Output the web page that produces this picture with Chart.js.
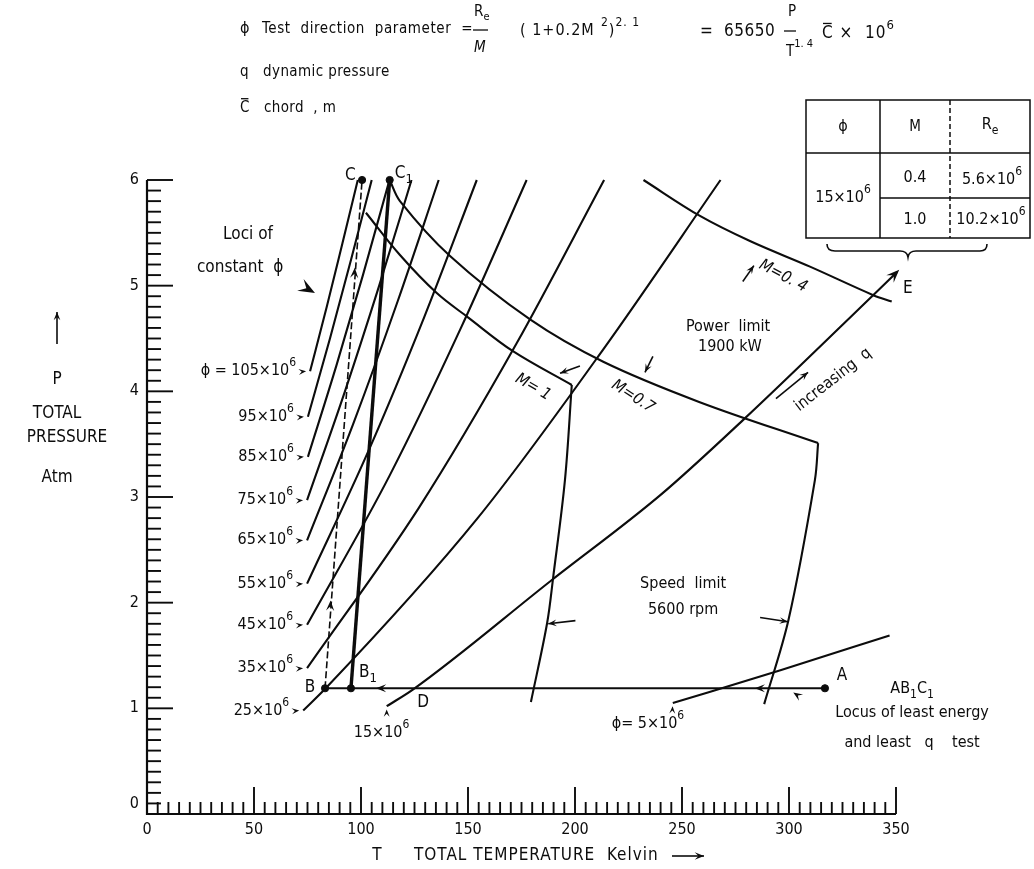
<!DOCTYPE html>
<html lang="en">
<head>
<meta charset="utf-8">
<title>Test direction parameter</title>
<script src="https://cdn.jsdelivr.net/npm/chart.js@4.4.1/dist/chart.umd.min.js"></script>
<style>
    html, body { margin: 0; padding: 0; background: #fff; }
    canvas { display: block; }
</style>
</head>
<body>
<canvas id="mapa" width="1034" height="869"></canvas>
<script>
// ____________________________________________________________________________
// Dados (T em Kelvin, P em atm)

const tempTicks = [0, 50, 100, 150, 200, 250, 300, 350];
const pressTicks = [0, 1, 2, 3, 4, 5, 6];

// linhas de phi constante (valores x10^6)
const phiValues = [105, 95, 85, 75, 65, 55, 45, 35, 25, 15, 5];
const phi105T = [76.2, 84.0, 91.3, 98.5];
const phi105P = [4.19, 4.80, 5.40, 6.00];
const phi95T = [75.2, 85.5, 95.4, 105.0];
const phi95P = [3.76, 4.50, 5.25, 6.00];
const phi85T = [75.2, 88.6, 100.9, 113.3];
const phi85P = [3.38, 4.25, 5.10, 6.00];
const phi75T = [74.8, 92.5, 108.5, 123.6];
const phi75P = [2.97, 4.00, 5.00, 6.00];
const phi65T = [74.8, 96.5, 117.1, 136.3];
const phi65P = [2.59, 3.70, 4.85, 6.00];
const phi55T = [74.8, 103.8, 129.5, 154.1];
const phi55P = [2.18, 3.45, 4.70, 6.00];
const phi45T = [74.8, 113.3, 146.7, 177.4];
const phi45P = [1.79, 3.20, 4.60, 6.00];
const phi35T = [74.8, 127.1, 172.6, 213.6];
const phi35P = [1.38, 2.90, 4.45, 6.00];
const phi25T = [73.0, 83.5, 154.5, 213.3, 268.0];
const phi25P = [0.98, 1.19, 2.80, 4.40, 6.00];
const phi15T = [112.0, 124.4, 188.9, 240.0, 278.6, 339.3, 350.5];
const phi15P = [1.02, 1.18, 2.21, 3.02, 3.73, 4.91, 5.13];
const phi5T = [245.7, 296.0, 347.0];
const phi5P = [1.05, 1.36, 1.69];

// limite de potencia (1900 kW) e limite de rotacao (5600 rpm)
const m1PowerT = [102.3, 118.2, 135.4, 150.0, 171.0, 198.5];
const m1PowerP = [5.69, 5.29, 4.93, 4.70, 4.38, 4.06];
const m1SpeedT = [179.4, 187.0, 189.8, 195.3, 198.5];
const m1SpeedP = [1.06, 1.81, 2.24, 3.16, 4.06];
const m07PowerT = [113.4, 118.2, 141.6, 179.0, 213.2, 258.0, 313.6];
const m07PowerP = [6.00, 5.80, 5.28, 4.68, 4.28, 3.90, 3.51];
const m07SpeedT = [288.4, 299.8, 312.1, 313.6];
const m07SpeedP = [1.04, 1.84, 3.16, 3.51];
const m04T = [232.0, 258.4, 282.0, 309.8, 339.4, 348.0];
const m04P = [6.00, 5.66, 5.42, 5.18, 4.91, 4.85];

// caminho de teste A -> B -> C e B1 -> C1
const pathNames = ['A', 'B', 'B1', 'C', 'C1'];
const pathT = [316.8, 83.2, 95.3, 100.5, 113.4];
const pathP = [1.19, 1.19, 1.19, 6.00, 6.00];

// tabela do ponto E
const tablePhi = '15';
const tableMach = ['0.4', '1.0'];
const tableRe = ['5.6', '10.2'];

// ____________________________________________________________________________

const FAMILY = '"DejaVu Sans Condensed", "Liberation Sans Narrow", "DejaVu Sans", sans-serif';
const INK = '#0c0c0c';

const pts = (T, P) => T.map((t, i) => ({ x: t, y: P[i] }));

function linha(T, P, extra) {
    return Object.assign({
        data: pts(T, P),
        showLine: true,
        borderColor: INK,
        borderWidth: 2.1,
        pointRadius: 0,
        tension: 0.35,
        fill: false,
        clip: false,
    }, extra || {});
}

const phiLines = [
    [phi105T, phi105P], [phi95T, phi95P], [phi85T, phi85P], [phi75T, phi75P],
    [phi65T, phi65P], [phi55T, phi55P], [phi45T, phi45P], [phi35T, phi35P],
    [phi25T, phi25P], [phi15T, phi15P], [phi5T, phi5P],
];

const datasets = phiLines.map(([T, P]) => linha(T, P, { cubicInterpolationMode: 'monotone' }));
datasets.push(linha(m1PowerT, m1PowerP));
datasets.push(linha(m1SpeedT, m1SpeedP));
datasets.push(linha(m07PowerT, m07PowerP));
datasets.push(linha(m07SpeedT, m07SpeedP));
datasets.push(linha(m04T, m04P));
// A -> B1 -> B (linha horizontal)
datasets.push(linha([pathT[1], pathT[0]], [pathP[1], pathP[0]], { tension: 0 }));
// B -> C (tracejada) e B1 -> C1 (grossa)
datasets.push(linha([pathT[1], pathT[3]], [pathP[1], pathP[3]], { tension: 0, borderWidth: 1.6, borderDash: [7, 3] }));
datasets.push(linha([pathT[2], pathT[4]], [pathP[2], pathP[4]], { tension: 0, borderWidth: 3.4 }));
// pontos
datasets.push({
    data: pts(pathT, pathP),
    showLine: false,
    pointRadius: 3.6,
    pointBackgroundColor: INK,
    pointBorderColor: INK,
    clip: false,
});

// ____________________________________________________________________________
// Funções de desenho

// texto com expoente (^), índice (_) ou barra (~)
function rich(ctx, parts, x, y, size, align, style, spacing) {
    const st = style ? style + ' ' : '';
    ctx.letterSpacing = (spacing || 0) + 'px';
    const fonts = parts.map(([t, k]) => st + ((k === '^' || k === '_') ? Math.round(size * 0.75) : size) + 'px ' + FAMILY);
    const ws = [];
    let w = 0;
    parts.forEach(([t], i) => {
        ctx.font = fonts[i];
        const m = ctx.measureText(t).width;
        ws.push(m);
        w += m;
    });
    let cx = align === 'center' ? x - w / 2 : align === 'right' ? x - w : x;
    ctx.textAlign = 'left';
    ctx.textBaseline = 'middle';
    parts.forEach(([t, k], i) => {
        ctx.font = fonts[i];
        const dy = k === '^' ? -size * 0.5 : k === '_' ? size * 0.35 : 0;
        ctx.fillText(t, cx, y + dy);
        if (k === '~') {
            ctx.beginPath();
            ctx.lineWidth = 1.3;
            ctx.moveTo(cx + 1, y - size * 0.62);
            ctx.lineTo(cx + ws[i] - 1 - (spacing || 0), y - size * 0.62);
            ctx.stroke();
        }
        cx += ws[i];
    });
    ctx.letterSpacing = '0px';
    return w;
}

// ponta de seta preenchida
function seta(ctx, x1, y1, x2, y2, size, shaft) {
    const a = Math.atan2(y2 - y1, x2 - x1);
    if (shaft) {
        ctx.beginPath();
        ctx.lineWidth = 1.6;
        ctx.moveTo(x1, y1);
        ctx.lineTo(x2, y2);
        ctx.stroke();
    }
    ctx.beginPath();
    ctx.moveTo(x2, y2);
    ctx.lineTo(x2 - size * Math.cos(a - 0.38), y2 - size * Math.sin(a - 0.38));
    ctx.lineTo(x2 - size * 0.55 * Math.cos(a), y2 - size * 0.55 * Math.sin(a));
    ctx.lineTo(x2 - size * Math.cos(a + 0.38), y2 - size * Math.sin(a + 0.38));
    ctx.closePath();
    ctx.fill();
}

const SUP6 = (s) => [[s + '×10', ''], ['6', '^']];

// setas de anotação: [T1, P1, T2, P2, tamanho, com haste]
const setas = [
    [115, 1.19, 107, 1.19, 11, false],
    [292, 1.19, 284, 1.19, 11, false],
    [308, 1.07, 302, 1.15, 10, false],
    [85.4, 1.85, 85.8, 2.02, 11, false],
    [96.6, 5.00, 97.1, 5.17, 11, false],
    [345.0, 5.02, 351.5, 5.15, 14, false],
    [200.2, 1.83, 187.5, 1.80, 9, true],
    [286.5, 1.86, 299.5, 1.82, 9, true],
    [202.3, 4.24, 193.0, 4.17, 9, true],
    [236.4, 4.33, 232.7, 4.18, 9, true],
    [278.4, 5.04, 283.6, 5.19, 9, true],
    [293.9, 3.93, 308.9, 4.18, 9, true],
    [112.0, 0.90, 112.0, 0.99, 8, false],
    [245.4, 0.93, 245.6, 1.02, 8, false],
    [69.6, 5.03, 78.5, 4.93, 18, false],
];

const desenho = {
    id: 'desenho',
    afterDraw(chart) {
        const ctx = chart.ctx;
        const sx = chart.scales.x, sy = chart.scales.y;
        const X = (v) => sx.getPixelForValue(v);
        const Y = (v) => sy.getPixelForValue(v);
        ctx.save();
        ctx.fillStyle = INK;
        ctx.strokeStyle = INK;

        // eixos
        ctx.lineWidth = 2.2;
        ctx.beginPath();
        ctx.moveTo(X(0), Y(6));
        ctx.lineTo(X(0), Y(0));
        ctx.lineTo(X(350), Y(0));
        ctx.stroke();
        ctx.lineWidth = 1.9;
        for (let i = 0; i <= 60; i++) {
            const len = i % 10 === 0 ? 26 : 14;
            ctx.beginPath();
            ctx.moveTo(X(0), Y(i / 10));
            ctx.lineTo(X(0) + len, Y(i / 10));
            ctx.stroke();
        }
        for (let i = 0; i <= 70; i++) {
            const len = i % 10 === 0 ? 27 : 12;
            ctx.beginPath();
            ctx.moveTo(X(i * 5), Y(0));
            ctx.lineTo(X(i * 5), Y(0) - len);
            ctx.stroke();
        }
        ctx.font = '16px ' + FAMILY;
        ctx.textBaseline = 'middle';
        ctx.textAlign = 'center';
        tempTicks.forEach((v) => ctx.fillText(String(v), X(v), Y(0) + 16));
        ctx.textAlign = 'right';
        pressTicks.forEach((v) => ctx.fillText(String(v), X(0) - 8, Y(v) - (v === 0 ? 10 : 0)));

        // títulos dos eixos
        rich(ctx, [['T', '']], 377, 856, 17, 'center');
        rich(ctx, [['TOTAL TEMPERATURE  Kelvin', '']], 414, 856, 17, 'left', null, 1);
        seta(ctx, 672, 856, 704, 856, 10, true);
        rich(ctx, [['P', '']], 57, 380, 17, 'center');
        rich(ctx, [['TOTAL', '']], 57, 414, 17, 'center');
        rich(ctx, [['PRESSURE', '']], 67, 438, 17, 'center');
        rich(ctx, [['Atm', '']], 57, 478, 17, 'center');
        seta(ctx, 57, 344, 57, 312, 9, true);

        // definições no topo
        rich(ctx, [['ϕ', '']], 240, 29, 16);
        rich(ctx, [['Test  direction  parameter  =', '']], 262, 29, 15, 'left', null, 0.6);
        rich(ctx, [['R', ''], ['e', '_']], 474, 12, 15);
        ctx.lineWidth = 1.3;
        ctx.beginPath(); ctx.moveTo(473, 30); ctx.lineTo(488, 30); ctx.stroke();
        rich(ctx, [['M', '']], 474, 48, 15, null, 'italic');
        rich(ctx, [['( 1+0.2', ''], ['M', '']], 520, 31, 16, 'left', null, 1);
        rich(ctx, [['2', '^'], [')', ''], ['2. 1', '^']], 601, 31, 16, 'left', null, 1);
        rich(ctx, [['=  65650', '']], 700, 32, 17, 'left', null, 0.5);
        rich(ctx, [['P', '']], 788, 12, 15);
        ctx.lineWidth = 1.3;
        ctx.beginPath(); ctx.moveTo(784, 31); ctx.lineTo(796, 31); ctx.stroke();
        rich(ctx, [['T', ''], ['1. 4', '^']], 786, 52, 15);
        rich(ctx, [['C', '~'], [' ×  10', ''], ['6', '^']], 822, 34, 17, 'left', null, 1);
        rich(ctx, [['q   dynamic pressure', '']], 240, 72, 15, 'left', null, 0.4);
        rich(ctx, [['C', '~'], ['   chord  , m', '']], 240, 108, 15, 'left', null, 0.4);

        // tabela
        ctx.lineWidth = 1.5;
        ctx.beginPath();
        ctx.rect(806, 100, 224, 138);
        ctx.moveTo(806, 153); ctx.lineTo(1030, 153);
        ctx.moveTo(880, 100); ctx.lineTo(880, 238);
        ctx.moveTo(880, 198); ctx.lineTo(1030, 198);
        ctx.stroke();
        ctx.setLineDash([5, 3]);
        ctx.beginPath(); ctx.moveTo(950, 100); ctx.lineTo(950, 238); ctx.stroke();
        ctx.setLineDash([]);
        rich(ctx, [['ϕ', '']], 843, 127, 16, 'center');
        rich(ctx, [['M', '']], 915, 127, 15, 'center');
        rich(ctx, [['R', ''], ['e', '_']], 990, 125, 16, 'center');
        rich(ctx, SUP6(tablePhi), 843, 198, 16, 'center');
        rich(ctx, [[tableMach[0], '']], 915, 178, 16, 'center');
        rich(ctx, [[tableMach[1], '']], 915, 220, 16, 'center');
        rich(ctx, SUP6(tableRe[0]), 992, 180, 16, 'center');
        rich(ctx, SUP6(tableRe[1]), 991, 220, 16, 'center');
        // chave sob a tabela
        ctx.lineWidth = 1.6;
        ctx.beginPath();
        ctx.moveTo(827, 244);
        ctx.quadraticCurveTo(827, 251, 835, 251);
        ctx.lineTo(900, 251);
        ctx.quadraticCurveTo(907, 251, 908, 257);
        ctx.quadraticCurveTo(909, 251, 916, 251);
        ctx.lineTo(980, 251);
        ctx.quadraticCurveTo(987, 251, 987, 244);
        ctx.stroke();

        // rótulos das linhas de phi
        phiLines.forEach(([T, P], i) => {
            const v = phiValues[i];
            if (v <= 15) return;
            const x0 = X(T[0]), y0 = Y(P[0]);
            const parts = v === 105 ? [['ϕ = ', '']].concat(SUP6(String(v))) : SUP6(String(v));
            rich(ctx, parts, x0 - 14, y0, 16, 'right');
            seta(ctx, x0 - 14, y0 + 1, x0 - 4, y0, 8, false);
        });
        rich(ctx, SUP6('15'), X(109.6), Y(0.77), 16, 'center');
        rich(ctx, [['ϕ= ', '']].concat(SUP6('5')), X(234.1), Y(0.85), 16, 'center');

        // letras dos pontos
        rich(ctx, [['B', '']], X(76.2), Y(1.20), 17, 'center');
        rich(ctx, [['B', ''], ['1', '_']], X(103.3), Y(1.34), 17, 'center');
        rich(ctx, [['D', '']], X(129.0), Y(1.05), 17, 'center');
        rich(ctx, [['A', '']], X(324.8), Y(1.31), 17, 'center');
        rich(ctx, [['C', '']], X(95.0), Y(6.0) - 4, 17, 'center');
        rich(ctx, [['C', ''], ['1', '_']], X(120.0), Y(6.0) - 6, 17, 'center');
        rich(ctx, [['E', '']], X(355.5), Y(4.97), 17, 'center');
        rich(ctx, [['AB', ''], ['1', '_'], ['C', ''], ['1', '_']], X(357.5), Y(1.18), 16, 'center');
        rich(ctx, [['Locus of least energy', '']], X(357.5), Y(0.96), 16, 'center');
        rich(ctx, [['and least   q    test', '']], X(357.5), Y(0.67), 16, 'center');
        rich(ctx, [['Speed  limit', '']], X(250.5), Y(2.18), 16, 'center');
        rich(ctx, [['5600 rpm', '']], X(250.5), Y(1.93), 16, 'center');
        rich(ctx, [['Power  limit', '']], X(271.5), Y(4.61), 16, 'center');
        rich(ctx, [['1900 kW', '']], X(272.4), Y(4.42), 16, 'center');
        rich(ctx, [['Loci of', '']], X(47.2), Y(5.48), 17, 'center');
        rich(ctx, [['constant  ϕ', '']], X(43.5), Y(5.17), 17, 'center');

        // rótulos inclinados
        const girado = (parts, T, P, ang, size, style) => {
            ctx.save();
            ctx.translate(X(T), Y(P));
            ctx.rotate(ang * Math.PI / 180);
            rich(ctx, parts, 0, 0, size, 'center', style);
            ctx.restore();
        };
        girado([['M', ''], ['= 1', '']], 180.4, 4.04, 30, 16, 'italic');
        girado([['M', ''], ['=0.7', '']], 227.1, 3.95, 33, 16, 'italic');
        girado([['M', ''], ['=0. 4', '']], 297.2, 5.09, 28, 16, 'italic');
        girado([['increasing  q', '']], 320.6, 4.11, -38, 16);

        // setas
        setas.forEach(([t1, p1, t2, p2, s, h]) => seta(ctx, X(t1), Y(p1), X(t2), Y(p2), s, h));

        ctx.restore();
    },
};

const chartMapa = new Chart(document.getElementById('mapa').getContext('2d'), {
    type: 'scatter',
    data: { datasets },
    options: {
        responsive: false,
        animation: false,
        devicePixelRatio: 1,
        layout: { padding: { left: 147, right: 138, top: 180, bottom: 55 } },
        scales: {
            x: { type: 'linear', min: 0, max: 350, display: false },
            y: { type: 'linear', min: 0, max: 6, display: false },
        },
        plugins: { legend: { display: false }, tooltip: { enabled: false } },
    },
    plugins: [desenho],
});
</script>
</body>
</html>
